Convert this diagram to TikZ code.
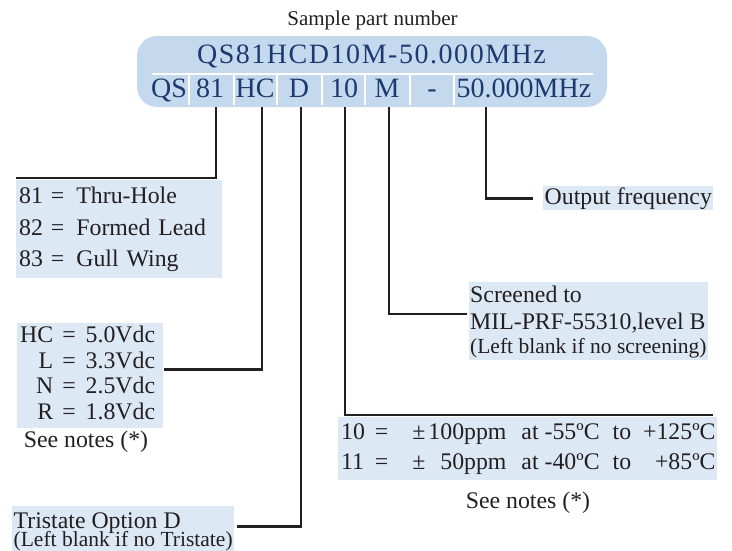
\documentclass[tikz,border=0pt]{standalone}
\usepackage{fontspec}
\setmainfont{Liberation Serif}
\newfontfamily\spacedfont[LetterSpace=5.5]{Liberation Serif}
\usetikzlibrary{positioning}

\definecolor{barblue}{HTML}{C5D9EE}
\definecolor{boxblue}{HTML}{DDE8F5}
\definecolor{navy}{HTML}{1C3A70}
\definecolor{ink}{HTML}{231F20}

\begin{document}
\begin{tikzpicture}[
    x=1pt, y=-1pt,
    bar/.style={rectangle, fill=barblue, rounded corners=20pt, minimum width=470pt, minimum height=71pt, inner sep=0pt},
    code/.style={anchor=base, text=navy, inner sep=0pt, font=\fontsize{28}{30}\selectfont},
    option/.style={rectangle, fill=boxblue, anchor=north west, align=left, inner xsep=3pt, inner ysep=1.5pt, text=ink, font=\fontsize{23.8}{31.5}\selectfont},
    note/.style={anchor=base, text=ink, inner sep=0pt, font=\fontsize{23.8}{28}\selectfont},
    link/.style={draw=ink, line width=2.8pt},
    sep/.style={draw=white, line width=2pt}
]
\useasboundingbox (0,0) rectangle (732,550);

% Part number bar
\node[note, font=\fontsize{21}{24}\selectfont] (caption) at (372.5,25) {Sample part number};
\node[bar] (pn) at (372,71.5) {};
\node[code, font={\spacedfont\fontsize{28}{30}\selectfont}] (title) at (371.5,63) {QS81HCD10M-50.000MHz};
\draw[sep] (152,74) -- (593,74);
\foreach \x in {189,234,277,322,365,410,454}
    \draw[sep] (\x,74) -- (\x,105);

% Fields of the part number
\node[code] (sQS) at (169,97) {QS};
\node[code] (s81) at (210,97) {81};
\node[code] (sHC) at (255,97) {HC};
\node[code] (sD) at (299,97) {D};
\node[code] (s10) at (344,97) {10};
\node[code] (sM) at (387,97) {M};
\node[code] (sDash) at (432,97) {-};
\node[code] (sFreq) at (524,97) {50.000MHz};

% Drop points under the bar
\coordinate (d81) at (216,107);
\coordinate (dHC) at (262,107);
\coordinate (dD) at (301,107);
\coordinate (d10) at (345,107);
\coordinate (dM) at (389,107);
\coordinate (dFreq) at (486,107);

% Mounting
\node[option, text width=200pt] (mount) at (16,180) {\begin{tabular}{@{}l@{\hspace{8pt}=\hspace{12pt}}l@{}}
81 & Thru-Hole\\
82 & Formed Lead\\
83 & Gull Wing
\end{tabular}};

% Supply voltage
\node[option, text width=140pt, font=\fontsize{23.8}{25.5}\selectfont] (supply) at (17,323) {\begin{tabular}{@{}r@{\hspace{9pt}=\hspace{10pt}}l@{}}
HC & 5.0Vdc\\
L & 3.3Vdc\\
N & 2.5Vdc\\
R & 1.8Vdc
\end{tabular}};
\node[note] (supplynote) at (86,447) {See notes (*)};

% Tristate
\node[option, inner xsep=1.5pt, font=\fontsize{23.8}{27}\selectfont] (tri) at (12,506) {\rule{0pt}{21pt}Tristate Option D\\[-9pt]
{\fontsize{21.5}{27}\selectfont (Left blank if no Tristate)}};

% Stability over temperature
\node[option, text width=373pt, font=\fontsize{23.8}{30}\selectfont] (temp) at (338,417) {\begin{tabular}{@{}l@{\hspace{10pt}=\hspace{24pt}}l@{\hspace{3pt}}r@{\hspace{15pt}}l@{\hspace{6pt}}l@{\hspace{13pt}}l@{\hspace{12pt}}r@{}}
10 & ± & 100ppm & at & -55ºC & to & +125ºC\\
11 & ± & 50ppm & at & -40ºC & to & +85ºC
\end{tabular}};
\node[note] (tempnote) at (528,508) {See notes (*)};

% Screening
\node[option, inner xsep=1pt, font=\fontsize{23.8}{27}\selectfont] (screen) at (469,282) {\rule{0pt}{19pt}Screened to\\
MIL-PRF-55310,level B\\[-3pt]
{\fontsize{21.5}{27}\selectfont (Left blank if no screening)}};

% Output frequency
\node[option, anchor=base west, inner xsep=1.5pt, inner ysep=1pt] (freq) at (543,204) {Output frequency};

% Connectors
\draw[link] (d81) |- ([yshift=2pt]mount.north west);
\draw[link] (dHC) |- ([xshift=1pt,yshift=6pt]supply.east);
\draw[link] (dD) |- ([xshift=3pt,yshift=3pt]tri.east);
\draw[link] (d10) |- ([xshift=-4pt,yshift=2pt]temp.north east);
\draw[link] (dM) |- ([xshift=-2pt,yshift=7pt]screen.west);
\draw[link] (dFreq) |- ([xshift=-10pt]freq.west);

\end{tikzpicture}
\end{document}
